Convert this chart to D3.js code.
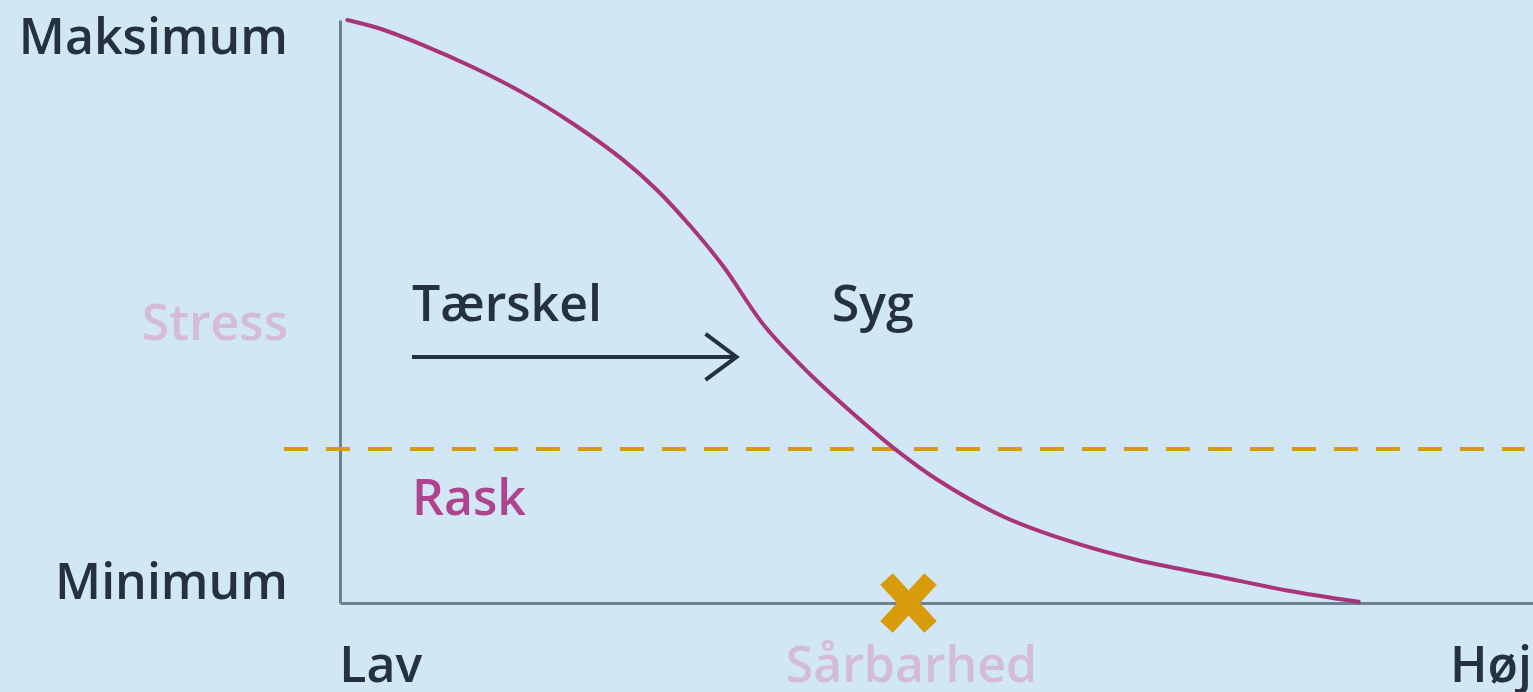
<!DOCTYPE html>
<html>
<head>
<meta charset="utf-8">
<script src="https://cdn.jsdelivr.net/npm/d3@7"></script>
<style>
    html, body { margin: 0; padding: 0; background: #d1e7f6; overflow: hidden; }
    text { font-family: 'Open Sans', 'Noto Sans', sans-serif; font-weight: 600; }
</style>
</head>
<body>
<div id="chart"></div>
<script>
// Data
const curveX = [0.6, 3.3, 6.8, 10.9, 15.0, 19.1, 23.2, 26.0, 28.7, 31.4, 34.8, 38.4, 42.0, 45.5, 49.0, 54.4, 59.8, 65.1, 72.1, 77.5, 83.5]
const curveY = [100, 98.5, 95.7, 91.9, 87.5, 82.2, 76.0, 70.8, 64.7, 57.8, 47.5, 39.5, 32.6, 26.4, 21.1, 14.8, 10.6, 7.5, 4.5, 2.2, 0.2]

const threshold = 26.4
const markerX = 46.6

const yTickValues = [3.6, 48, 97]
const yTickLabels = ['Minimum', 'Stress', 'Maksimum']
const xTickValues = [3.3, 46.8, 94.3]
const xTickLabels = ['Lav', 'Sårbarhed', 'Høj']

// arrow "Tærskel" from / to (x), at height y
const arrowX = [5.9, 32.5]
const arrowY = 42.2
const notes = [
    { text: 'Tærskel', x: 5.9, y: 48.4, kind: 'dark' },
    { text: 'Syg', x: 40.3, y: 48.4, kind: 'dark' },
    { text: 'Rask', x: 5.9, y: 15.1, kind: 'rask' }
]

function draw() {
    const dataset = curveX.map((x, i) => ({ x: x, y: curveY[i] }))

    let dimension = {
        width: 1533,
        height: 692,
        margin: { top: 20, bottom: 89, left: 340, right: -27 }
    }
    dimension.ctrwidth = dimension.width - dimension.margin.left - dimension.margin.right
    dimension.ctrheight = dimension.height - dimension.margin.top - dimension.margin.bottom

    const colors = {
        dark: '#25323e',
        pale: '#d4bcd9',
        rask: '#b0438d',
        curve: '#a8357a',
        gold: '#d89c0a',
        axis: '#6d8290'
    }
    const fontSize = '50px'

    const svg = d3.select('#chart')
        .append('svg')
        .attr('width', dimension.width)
        .attr('height', dimension.height)

    svg.append('rect')
        .attr('width', dimension.width)
        .attr('height', dimension.height)
        .attr('fill', '#d1e7f6')

    const ctr = svg.append('g')
        .attr('transform', `translate(${dimension.margin.left}, ${dimension.margin.top})`)

    // Scales
    const xScale = d3.scaleLinear()
        .domain([0, 100])
        .range([0, dimension.ctrwidth])

    const yScale = d3.scaleLinear()
        .domain([0, 100])
        .range([dimension.ctrheight, 0])

    // Axes
    const yAxis = d3.axisLeft(yScale)
        .tickValues(yTickValues)
        .tickFormat((d, i) => yTickLabels[i])
        .tickSize(0)
        .tickSizeOuter(0)
        .tickPadding(52)

    const yAxisGroup = ctr.append('g').call(yAxis)
    yAxisGroup.attr('font-size', null).attr('font-family', null)
    yAxisGroup.select('.domain').attr('stroke', colors.axis).attr('stroke-width', 3)
    yAxisGroup.selectAll('text')
        .style('font-size', fontSize)
        .attr('fill', (d, i) => i === 1 ? colors.pale : colors.dark)

    const xAxis = d3.axisBottom(xScale)
        .tickValues(xTickValues)
        .tickFormat((d, i) => xTickLabels[i])
        .tickSize(0)
        .tickSizeOuter(0)
        .tickPadding(43)

    const xAxisGroup = ctr.append('g')
        .attr('transform', `translate(0, ${dimension.ctrheight})`)
        .call(xAxis)
    xAxisGroup.attr('font-size', null).attr('font-family', null)
    xAxisGroup.select('.domain').attr('stroke', colors.axis).attr('stroke-width', 3)
    xAxisGroup.selectAll('text')
        .style('font-size', fontSize)
        .attr('fill', (d, i) => i === 1 ? colors.pale : colors.dark)

    // Threshold
    ctr.append('line')
        .attr('x1', xScale(-4.6))
        .attr('x2', xScale(97.1))
        .attr('y1', yScale(threshold))
        .attr('y2', yScale(threshold))
        .attr('stroke', colors.gold)
        .attr('stroke-width', 4)
        .attr('stroke-dasharray', '24 18')

    // Curve
    const line = d3.line()
        .x(d => xScale(d.x))
        .y(d => yScale(d.y))
        .curve(d3.curveCatmullRom.alpha(0.5))

    ctr.append('path')
        .datum(dataset)
        .attr('d', line)
        .attr('fill', 'none')
        .attr('stroke', colors.curve)
        .attr('stroke-width', 4)
        .attr('stroke-linecap', 'round')

    // Arrow
    const ax2 = xScale(arrowX[1])
    const ay = yScale(arrowY)
    ctr.append('line')
        .attr('x1', xScale(arrowX[0]))
        .attr('x2', ax2 - 2)
        .attr('y1', ay)
        .attr('y2', ay)
        .attr('stroke', colors.dark)
        .attr('stroke-width', 4)
    ctr.append('path')
        .attr('d', `M${ax2 - 31},${ay - 23}L${ax2},${ay}L${ax2 - 31},${ay + 23}`)
        .attr('fill', 'none')
        .attr('stroke', colors.dark)
        .attr('stroke-width', 4)

    // Notes
    ctr.selectAll('.note')
        .data(notes)
        .join('text')
        .attr('class', 'note')
        .attr('x', d => xScale(d.x))
        .attr('y', d => yScale(d.y))
        .attr('fill', d => d.kind === 'rask' ? colors.rask : colors.dark)
        .style('font-size', fontSize)
        .text(d => d.text)

    // Marker
    const mx = xScale(markerX)
    const my = yScale(0)
    ctr.append('path')
        .attr('d', `M${mx - 22},${my - 24}L${mx + 22},${my + 24}M${mx + 22},${my - 24}L${mx - 22},${my + 24}`)
        .attr('stroke', colors.gold)
        .attr('stroke-width', 17)
}

draw()
</script>
</body>
</html>
